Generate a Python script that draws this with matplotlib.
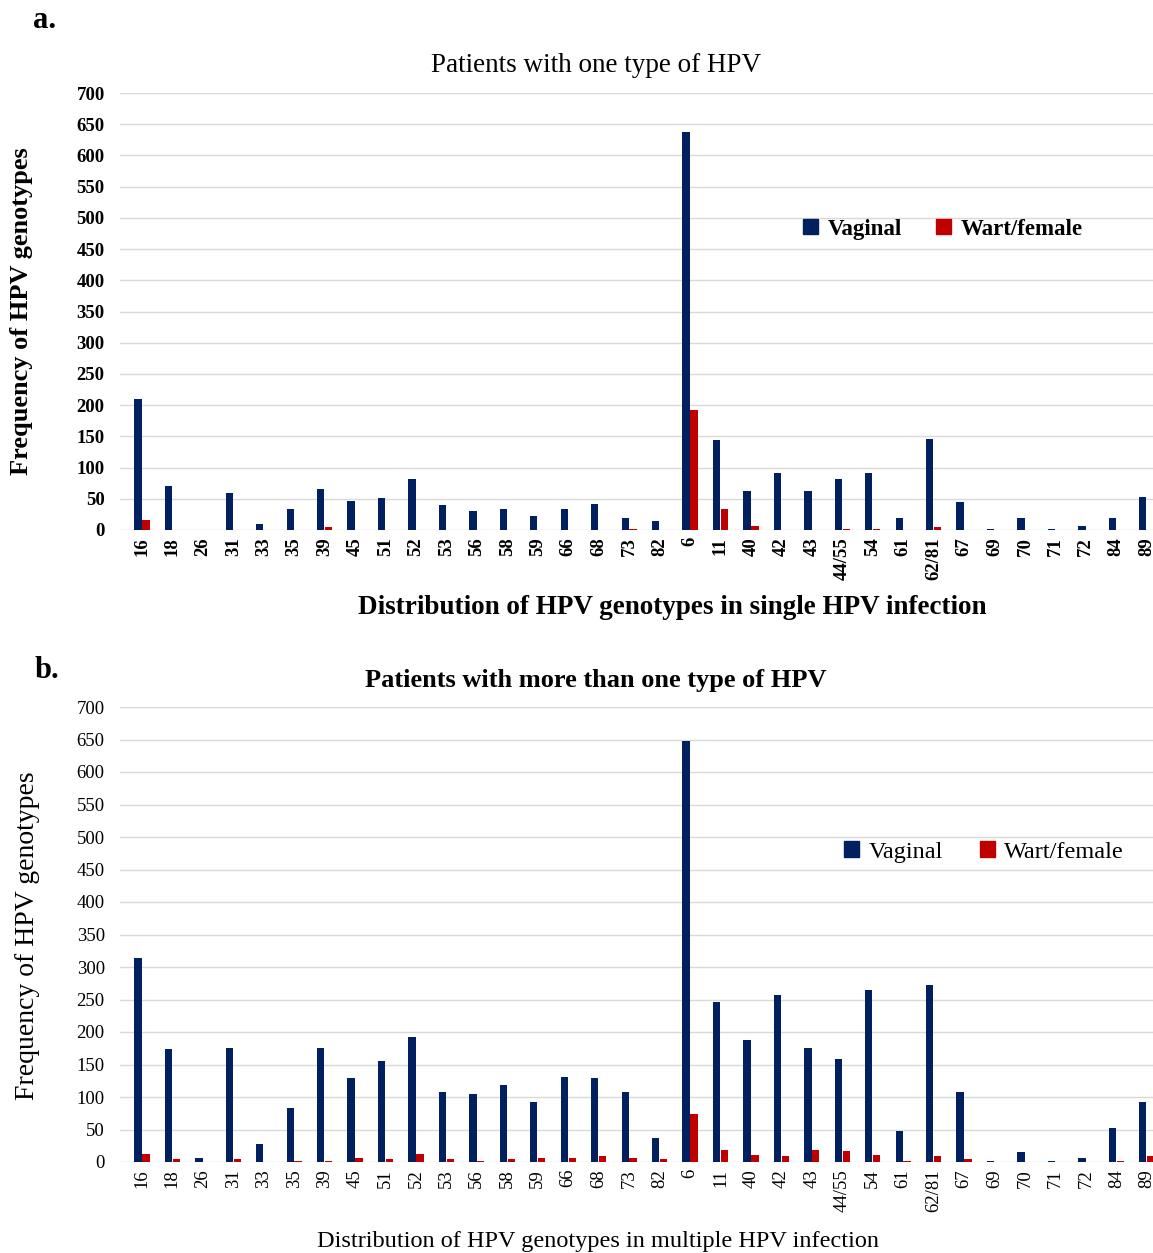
import numpy as np
import matplotlib
matplotlib.use("Agg")
import matplotlib.pyplot as plt
from matplotlib.patches import Patch

GENOTYPES = ["16", "18", "26", "31", "33", "35", "39", "45", "51", "52", "53", "56",
             "58", "59", "66", "68", "73", "82", "6", "11", "40", "42", "43", "44/55",
             "54", "61", "62/81", "67", "69", "70", "71", "72", "84", "89"]

# panel a: single infection
single_vaginal = [210, 70, 0, 60, 10, 33, 65, 47, 51, 81, 40, 30,
                  34, 22, 34, 41, 20, 15, 637, 144, 62, 92, 63, 81,
                  91, 20, 146, 45, 1, 20, 1, 7, 20, 53]
single_wart = [16, 0, 0, 0, 0, 0, 5, 0, 0, 0, 0, 0,
               0, 0, 0, 0, 1, 0, 193, 34, 7, 0, 0, 2,
               2, 0, 5, 0, 0, 0, 0, 0, 0, 0]

# panel b: multiple infection
multi_vaginal = [314, 174, 6, 176, 28, 83, 176, 130, 156, 193, 108, 105,
                 118, 93, 131, 129, 108, 37, 647, 246, 188, 257, 175, 159,
                 264, 47, 272, 108, 1, 15, 1, 6, 52, 93]
multi_wart = [12, 5, 0, 5, 0, 2, 2, 6, 5, 12, 4, 2,
              5, 6, 6, 10, 6, 4, 74, 19, 11, 10, 19, 17,
              11, 2, 10, 4, 0, 0, 0, 0, 2, 10]

BLUE = "#002060"
RED = "#C00000"
FONT = "Liberation Serif"

plt.rcParams["font.family"] = FONT

W, H = 1153, 1253
fig = plt.figure(figsize=(W / 100, H / 100), dpi=100)


def px_axes(left, top, right, bottom):
    return fig.add_axes([left / W, 1 - bottom / H, (right - left) / W, (bottom - top) / H])


def panel(ax, vag, wart, tick_weight):
    x = np.arange(len(GENOTYPES))
    w = 0.24
    ax.bar(x - 0.13, vag, width=w, color=BLUE, zorder=3)
    ax.bar(x + 0.13, wart, width=w, color=RED, zorder=3)
    ax.set_xlim(-0.72, len(GENOTYPES) - 0.5)
    ax.set_ylim(0, 700)
    ax.set_yticks(range(0, 701, 50))
    ax.set_xticks(x)
    ax.set_xticklabels(GENOTYPES, rotation=90, fontsize=13.5, fontweight=tick_weight)
    for lab in ax.get_yticklabels():
        lab.set_fontsize(13.5)
        lab.set_fontweight(tick_weight)
    ax.tick_params(axis="y", length=0, pad=11)
    ax.tick_params(axis="x", length=0, pad=5)
    ax.grid(axis="y", color="#d9d9d9", linewidth=1, zorder=0)
    for s in ax.spines.values():
        s.set_visible(False)


# ---- a ----
ax1 = px_axes(120, 93, 1162, 530)
panel(ax1, single_vaginal, single_wart, "bold")
ax1.legend(handles=[Patch(color=BLUE, label="Vaginal"), Patch(color=RED, label="Wart/female")],
           loc="center", bbox_to_anchor=(943 / W, 1 - 229 / H), bbox_transform=fig.transFigure,
           ncol=2, frameon=False, handlelength=0.66, handleheight=0.66,
           columnspacing=1.5, handletextpad=0.4, prop={"family": FONT, "size": 16.5, "weight": "bold"})

fig.text(45 / W, 1 - 20 / H, "a.", fontsize=22, fontweight="bold", ha="center", va="center")
fig.text(596 / W, 1 - 65 / H, "Patients with one type of HPV", fontsize=19.5,
         fontweight="normal", ha="center", va="center")
fig.text(672 / W, 1 - 607 / H, "Distribution of HPV genotypes in single HPV infection",
         fontsize=19.5, fontweight="bold", ha="center", va="center")
fig.text(22 / W, 1 - 311 / H, "Frequency of HPV genotypes", fontsize=19,
         fontweight="bold", rotation=90, ha="center", va="center")

# ---- b ----
ax2 = px_axes(120, 707, 1162, 1162)
panel(ax2, multi_vaginal, multi_wart, "normal")
ax2.legend(handles=[Patch(color=BLUE, label="Vaginal"), Patch(color=RED, label="Wart/female")],
           loc="center", bbox_to_anchor=(984 / W, 1 - 852 / H), bbox_transform=fig.transFigure,
           ncol=2, frameon=False, handlelength=0.62, handleheight=0.62,
           columnspacing=1.5, handletextpad=0.4, prop={"family": FONT, "size": 17.5})

fig.text(47 / W, 1 - 670 / H, "b.", fontsize=22, fontweight="bold", ha="center", va="center")
fig.text(596 / W, 1 - 680 / H, "Patients with more than one type of HPV", fontsize=19,
         fontweight="bold", ha="center", va="center")
fig.text(598 / W, 1 - 1242 / H, "Distribution of HPV genotypes in multiple HPV infection",
         fontsize=17.5, ha="center", va="center")
fig.text(28 / W, 1 - 936 / H, "Frequency of HPV genotypes", fontsize=20,
         rotation=90, ha="center", va="center")

fig.savefig("out.png", dpi=100)
